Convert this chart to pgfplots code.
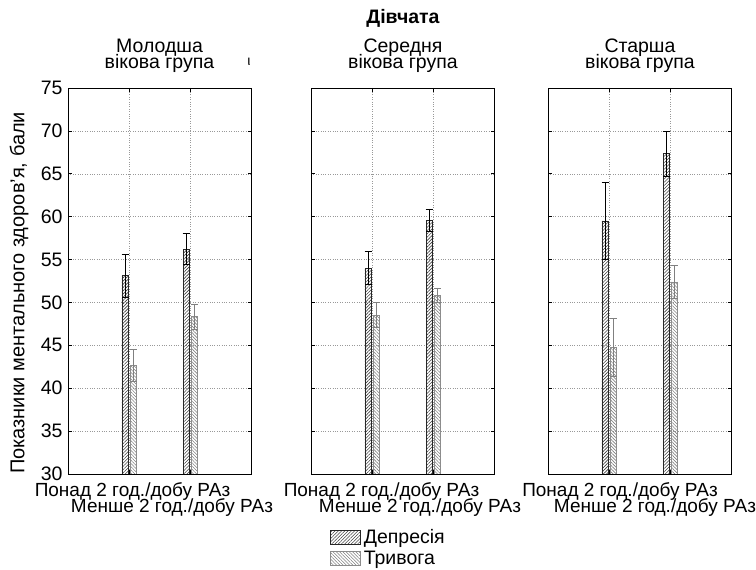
\documentclass[border=0pt]{standalone}
\usepackage{fontspec}
\setmainfont{Liberation Sans}
\usepackage{pgfplots}
\usepackage{pgfplotstable}
\pgfplotsset{compat=1.18}
\usetikzlibrary{patterns.meta}
\newcommand\F{\fontsize{19.5}{22}\selectfont}
\newcommand\FX{\fontsize{19}{22}\selectfont}

% Panel 1: younger
\pgfplotstableread{
x y e
1 53.1 2.5
2 56.2 1.8
}\depA
\pgfplotstableread{
x y e
1 42.7 1.85
2 48.35 1.45
}\anxA
% Panel 2: middle
\pgfplotstableread{
x y e
1 54.0 1.95
2 59.6 1.3
}\depB
\pgfplotstableread{
x y e
1 48.5 1.45
2 50.8 0.85
}\anxB
% Panel 3: older
\pgfplotstableread{
x y e
1 59.5 4.5
2 67.35 2.6
}\depC
\pgfplotstableread{
x y e
1 44.75 3.4
2 52.4 1.95
}\anxC

\pgfplotsset{
 panel/.style={
  at={(#1pt,96pt)}, anchor=south west, scale only axis,
  width=183.5pt, height=386pt,
  xmin=0, xmax=3, ymin=30, ymax=75,
  xtick={1,2}, xticklabels={}, ytick={30,35,...,75},
  ybar=2pt, bar width=6.3pt,
  grid=major, major grid style={dotted, black!40, line width=0.45pt},
  axis line style={black, line width=0.8pt},
  tick style={black, line width=0.6pt}, major tick length=4pt, tick align=inside,
  tick label style={font=\F}, /pgf/number format/assume math mode=true,
  yticklabel style={xshift=-2pt},
 },
 dep/.style={draw=black!85, line width=0.7pt,
  pattern={Lines[angle=45,distance=2.3pt,line width=0.6pt]}, pattern color=black!75,
  error bars/y dir=both, error bars/y explicit,
  error bars/error bar style={black, line width=0.8pt},
  error bars/error mark options={rotate=90, mark size=3.5pt, black, line width=0.8pt}},
 anx/.style={draw=black!45, line width=0.7pt,
  pattern={Lines[angle=-45,distance=2.3pt,line width=0.6pt]}, pattern color=black!50,
  error bars/y dir=both, error bars/y explicit,
  error bars/error bar style={black!50, line width=0.8pt},
  error bars/error mark options={rotate=90, mark size=3.5pt, black!50, line width=0.8pt}},
}

\begin{document}
\begin{tikzpicture}
\useasboundingbox (0,0) rectangle (756pt,570pt);

\begin{axis}[panel=68]
\addplot[dep] table[x=x,y=y,y error=e] {\depA};
\addplot[anx] table[x=x,y=y,y error=e] {\anxA};
\end{axis}

\begin{axis}[panel=311, yticklabels={},
  legend style={at={(0.103,-0.136)}, anchor=north west, draw=none, fill=none,
   inner sep=0pt, row sep=0pt, font=\F, nodes={inner sep=3pt}},
  legend cell align=left]
\addplot[dep, legend image code/.code={\draw[draw=black!85, line width=0.7pt,
  pattern={Lines[angle=45,distance=2.3pt,line width=0.6pt]}, pattern color=black!75]
  (0pt,-7pt) rectangle (30pt,7pt);}] table[x=x,y=y,y error=e] {\depB};
\addplot[anx, legend image code/.code={\draw[draw=black!45, line width=0.7pt,
  pattern={Lines[angle=-45,distance=2.3pt,line width=0.6pt]}, pattern color=black!50]
  (0pt,-7pt) rectangle (30pt,7pt);}] table[x=x,y=y,y error=e] {\anxB};
\legend{Депресія, Тривога}
\end{axis}

\begin{axis}[panel=548, yticklabels={}]
\addplot[dep] table[x=x,y=y,y error=e] {\depC};
\addplot[anx] table[x=x,y=y,y error=e] {\anxC};
\end{axis}

\node[anchor=base, font=\F\bfseries, inner sep=0pt] at (403pt,546pt) {Дівчата};
\node[anchor=base, font=\F, inner sep=0pt] at (159.5pt,517.5pt) {Молодша};
\node[anchor=base, font=\F, inner sep=0pt] at (159.5pt,501pt) {вікова група};
\node[anchor=base, font=\F, inner sep=0pt] at (403pt,517.5pt) {Середня};
\node[anchor=base, font=\F, inner sep=0pt] at (403pt,501pt) {вікова група};
\node[anchor=base, font=\F, inner sep=0pt] at (640pt,517.5pt) {Старша};
\node[anchor=base, font=\F, inner sep=0pt] at (640pt,501pt) {вікова група};
\node[font=\fontsize{14}{14}\selectfont, inner sep=0pt] at (249pt,508pt) {ι};

\node[anchor=base, font=\FX, inner sep=0pt] at (132.5pt,73pt) {Понад 2 год./добу РАз};
\node[anchor=base, font=\FX, inner sep=0pt] at (172pt,57pt) {Менше 2 год./добу РАз};
\node[anchor=base, font=\FX, inner sep=0pt] at (381.5pt,73pt) {Понад 2 год./добу РАз};
\node[anchor=base, font=\FX, inner sep=0pt] at (420pt,57pt) {Менше 2 год./добу РАз};
\node[anchor=base, font=\FX, inner sep=0pt] at (620pt,73pt) {Понад 2 год./добу РАз};
\node[anchor=base, font=\FX, inner sep=0pt] at (655pt,57pt) {Менше 2 год./добу РАз};

\node[rotate=90, font=\fontsize{20}{24}\selectfont, inner sep=0pt] at (19pt,277pt) {Показники ментального здоров’я, бали};
\end{tikzpicture}
\end{document}
